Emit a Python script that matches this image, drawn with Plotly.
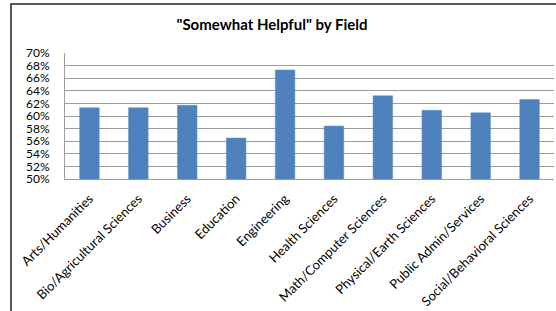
import plotly.graph_objects as go

categories = ["Arts/Humanities", "Bio/Agricultural Sciences", "Business", "Education",
              "Engineering", "Health Sciences", "Math/Computer Sciences",
              "Physical/Earth Sciences", "Public Admin/Services", "Social/Behavioral Sciences"]
values = [0.613, 0.613, 0.617, 0.565, 0.673, 0.584, 0.632, 0.609, 0.605, 0.626]
y_ticks = [0.50, 0.52, 0.54, 0.56, 0.58, 0.60, 0.62, 0.64, 0.66, 0.68, 0.70]
title_text = '"Somewhat Helpful" by Field'

W, H = 556, 311
L, R, T, B = 65, 2, 53, 132
pw, ph = W - L - R, H - T - B

def px_x(p):
    return (p - L) / pw

def px_y(p):
    return 1 - (p - T) / ph

fig = go.Figure(go.Bar(
    x=categories, y=values,
    marker=dict(color="#4F81BD", line=dict(color="#5B8BC6", width=0.5)),
    width=0.4,
))

fig.update_layout(
    width=W, height=H,
    margin=dict(l=L, r=R, t=T, b=B),
    paper_bgcolor="white", plot_bgcolor="white",
    font=dict(family="Lato, 'Open Sans', sans-serif", size=12, color="#000000"),
    title=dict(text="<b>" + title_text + "</b>", xref="container", x=272 / W,
               xanchor="center", yref="container", y=1 - 25 / H, yanchor="middle",
               font=dict(size=15, color="#000")),
    showlegend=False,
    bargap=0.6,
)
fig.update_yaxes(range=[0.5, 0.7], tickvals=y_ticks, tickformat=".0%",
                 showgrid=True, gridcolor="#9C9C9C", gridwidth=1,
                 showline=True, linecolor="#9C9C9C", linewidth=1,
                 zeroline=False, ticks="", ticklabelstandoff=12,
                 tickfont=dict(size=12))
fig.update_xaxes(showline=True, linecolor="#9C9C9C", linewidth=1,
                 tickangle=-45, ticks="", tickfont=dict(size=13),
                 ticklabelstandoff=6, automargin=False)

# chart border (cropped at right and bottom)
fig.add_shape(type="rect", xref="paper", yref="paper",
              x0=px_x(11), x1=px_x(W + 20), y0=px_y(H + 20), y1=px_y(4),
              line=dict(color="#222222", width=1.5), fillcolor="rgba(0,0,0,0)",
              layer="above")

fig.write_html("out.html", config={"displayModeBar": False},
               post_script="document.body.style.margin='0';document.body.style.overflow='hidden';")
